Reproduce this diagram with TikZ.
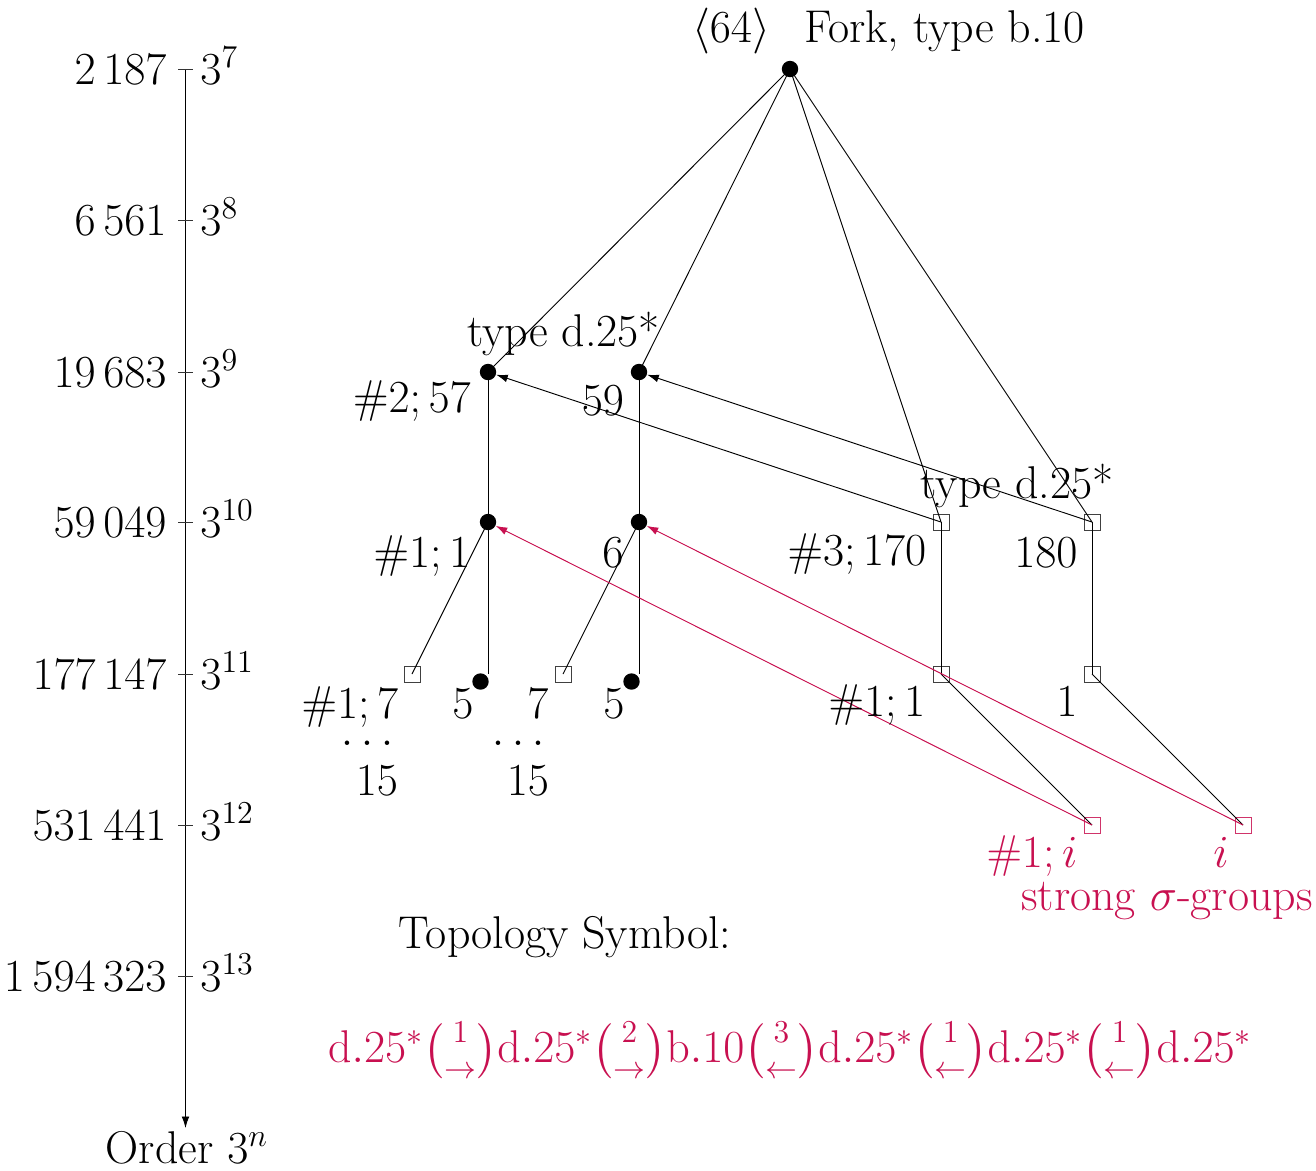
\documentclass[tikz,border=0pt]{standalone}
\usepackage{amsmath}
\usetikzlibrary{arrows.meta}
\definecolor{mred}{RGB}{200,16,80}
\begin{document}
\begin{tikzpicture}[x=0.4516pt,y=-0.4516pt,font=\huge,
  bul/.style={circle,fill=black,inner sep=0pt,minimum size=7.4pt},
  sq/.style={rectangle,draw=black!75,inner sep=0pt,minimum size=7.2pt,line width=0.4pt},
  rsq/.style={sq,draw=mred!85},
  lbl/.style={inner sep=0pt,anchor=base},
  rlbl/.style={lbl,text=mred},
  edge/.style={draw=black,line width=0.42pt},
  arr/.style={edge,-{Latex[length=5.2pt,width=3.5pt]}},
  rarr/.style={arr,draw=mred,fill=mred},
  tickmark/.style={draw=black!80,line width=0.42pt}
]
\useasboundingbox (0,0) rectangle (1316,1170);

% ---- order axis
\coordinate (atop) at (185.5,69);
\coordinate (abot) at (185.5,1128);
\draw[arr] (atop) -- (abot);
\foreach \lv/\num/\ex in {69/{2\,187}/7, 220/{6\,561}/8, 372/{19\,683}/9, 522/{59\,049}/10, 674/{177\,147}/11, 825/{531\,441}/12, 976/{1\,594\,323}/13}{
  \coordinate (t\ex) at (185.5,\lv);
  \draw[tickmark] ([xshift=-3.3pt]t\ex) -- ([xshift=3.3pt]t\ex);
  \node[lbl,anchor=base east] (L\ex) at (167,\lv+15) {$\num$};
  \node[lbl,anchor=base west] (R\ex) at (200,\lv+15) {$3^{\ex}$};
}
\node[lbl] (order) at (187,1163) {Order $3^n$};

% ---- vertices
\node[bul] (root) at (790,69) {};
\node[bul] (A) at (488,372) {};
\node[bul] (B) at (639,372) {};
\node[bul] (C) at (488,522) {};
\node[bul] (D) at (639,522) {};
\node[sq] (E) at (941,522) {};
\node[sq] (F) at (1092,522) {};
\node[sq] (Ga) at (412,674) {};
\node[bul] (Gb) at (480.5,681.5) {};
\coordinate (Gbt) at (488,674);
\node[sq] (Gc) at (563,674) {};
\node[bul] (Gd) at (631.5,681.5) {};
\coordinate (Gdt) at (639,674);
\node[sq] (H) at (941,674) {};
\node[sq] (I) at (1092,674) {};
\node[rsq] (J) at (1092,825) {};
\node[rsq] (K) at (1243,825) {};

% ---- edges
\draw[edge] (root.center) -- (A.center);
\draw[edge] (root.center) -- (B.center);
\draw[edge] (root.center) -- (E.center);
\draw[edge] (root.center) -- (F.center);
\draw[edge] (A.center) -- (C.center);
\draw[edge] (B.center) -- (D.center);
\draw[edge] (C.center) -- (Ga.center);
\draw[edge] (C.center) -- (Gbt);
\draw[edge] (D.center) -- (Gc.center);
\draw[edge] (D.center) -- (Gdt);
\draw[edge] (E.center) -- (H.center);
\draw[edge] (F.center) -- (I.center);
\draw[edge] (H.center) -- (J.center);
\draw[edge] (I.center) -- (K.center);
\draw[arr] (E.center) -- (A);
\draw[arr] (F.center) -- (B);
\draw[rarr] (J.center) -- (C);
\draw[rarr] (K.center) -- (D);

% ---- labels
\node[lbl] (l64) at (731,42) {$\langle 64\rangle$};
\node[lbl] (lfork) at (944.5,42) {Fork, type b.10};
\node[lbl] (ltypeA) at (563.5,346) {type d.25*};
\node[lbl] (lA) at (412,412) {$\#2;57$};
\node[lbl] (lB) at (603,415) {$59$};
\node[lbl] (lC) at (422,567) {$\#1;1$};
\node[lbl] (lD) at (613,567) {$6$};
\node[lbl] (ltypeE) at (1017,498) {type d.25*};
\node[lbl] (lE) at (857,565) {$\#3;170$};
\node[lbl] (lF) at (1046,567) {$180$};
\node[lbl] (lGa) at (350,718) {$\#1;7$};
\node[lbl] (lGb) at (463,718) {$5$};
\node[lbl] (lGc) at (538,718) {$7$};
\node[lbl] (lGd) at (614,718) {$5$};
\node[lbl,anchor=center] (dotsA) at (371,743) {$\dots$};
\node[lbl,anchor=center] (dotsB) at (522,743) {$\dots$};
\node[lbl] (fifA) at (377,795) {$15$};
\node[lbl] (fifB) at (528,795) {$15$};
\node[lbl] (lH) at (877,716) {$\#1;1$};
\node[lbl] (lI) at (1067,716) {$1$};
\node[rlbl] (lJ) at (1032,867) {$\#1;i$};
\node[rlbl] (lK) at (1221,867) {$i$};
\node[rlbl] (strong) at (1167,910) {strong $\sigma$-groups};
\node[lbl] (topo) at (565,948) {Topology Symbol:};
\node[rlbl,anchor=center] (sym) at (790,1050) {$\mathrm{d}.25^{\ast}\binom{1}{\rightarrow}\mathrm{d}.25^{\ast}\binom{2}{\rightarrow}\mathrm{b}.10\binom{3}{\leftarrow}\mathrm{d}.25^{\ast}\binom{1}{\leftarrow}\mathrm{d}.25^{\ast}\binom{1}{\leftarrow}\mathrm{d}.25^{\ast}$};
\end{tikzpicture}
\end{document}
